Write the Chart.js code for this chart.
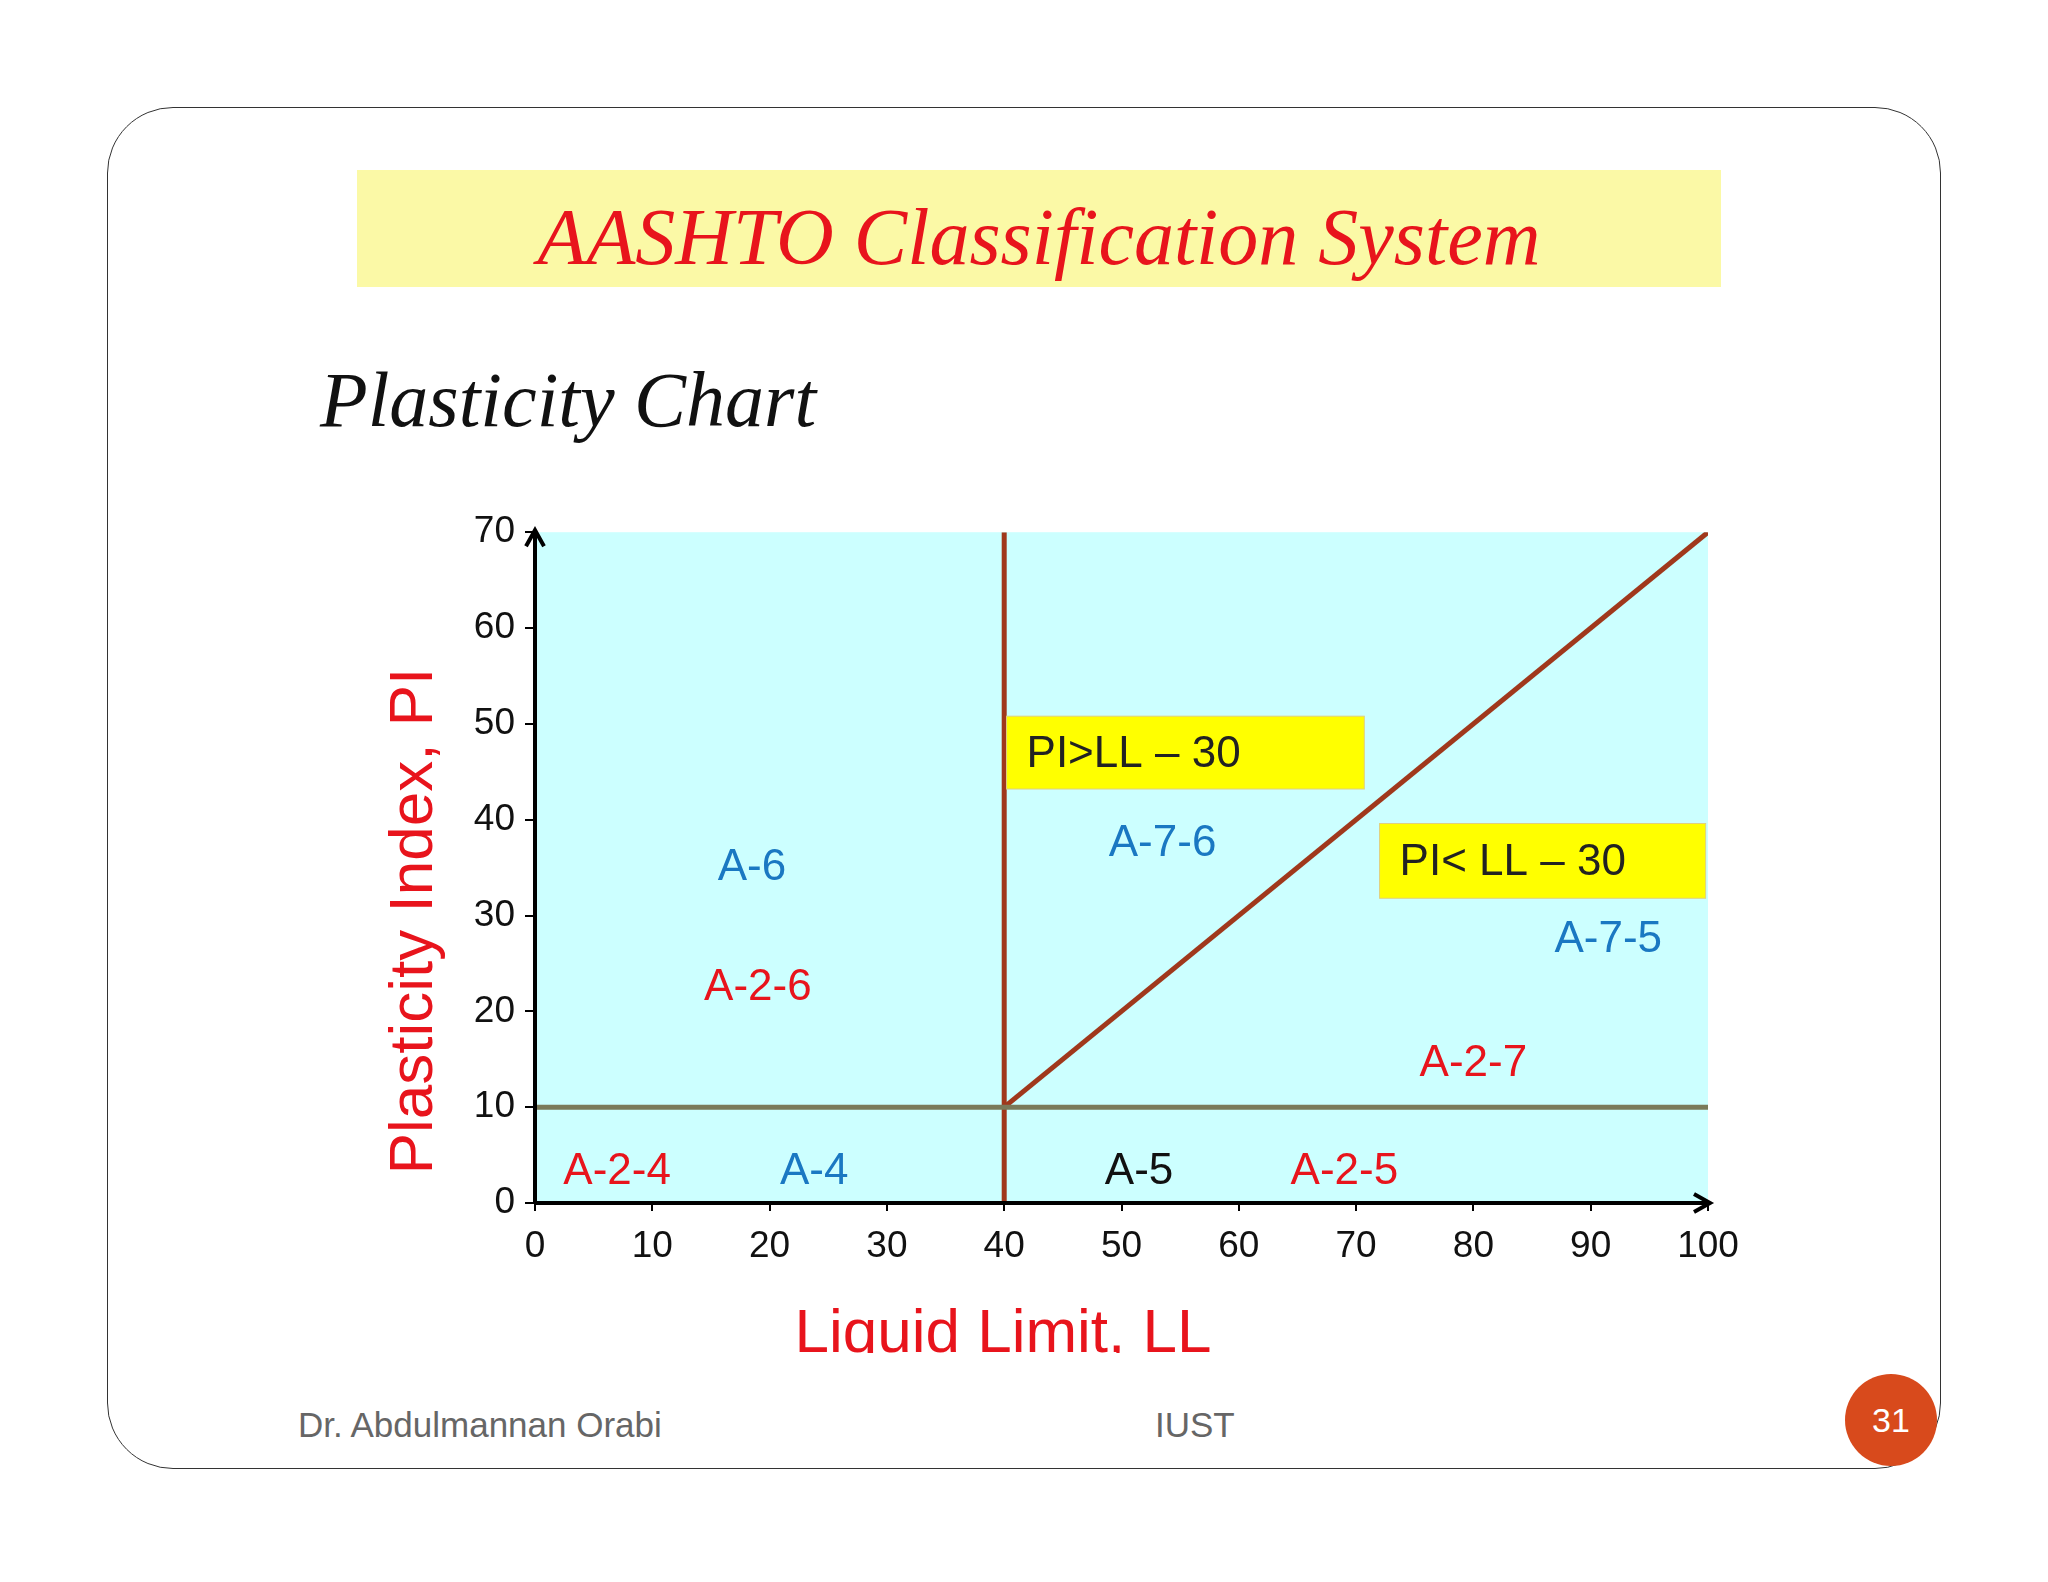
<!DOCTYPE html>
<html><head><meta charset="utf-8">
<script src="https://cdn.jsdelivr.net/npm/chart.js@4"></script>
<style>
body{margin:0;background:#fff;width:2048px;height:1582px;position:relative;overflow:hidden;font-family:"Liberation Sans",Arial,sans-serif}
#frame{position:absolute;left:107px;top:107px;width:1832px;height:1360px;border:1.5px solid #333;border-radius:66px}
#band{position:absolute;left:357px;top:170px;width:1364px;height:117px;background:#fbf9a6}
#title{position:absolute;left:357px;top:192px;width:1364px;height:100px;line-height:100px;text-align:center;font:italic 80px "Liberation Serif",serif;color:#e8141c}
#sub{position:absolute;left:320px;top:355px;font:italic 78px "Liberation Serif",serif;color:#111}
#box{position:absolute;left:370px;top:500px;width:1400px;height:853px}
.foot{position:absolute;top:1405px;font-size:35px;color:#666}
#num{position:absolute;left:1845px;top:1374px;width:92px;height:92px;border-radius:50%;background:#d84a1c;color:#fff;font-size:34px;line-height:92px;text-align:center}
</style></head><body>
<div id="frame"></div><div id="band"></div>
<div id="title">AASHTO Classification System</div>
<div id="sub">Plasticity Chart</div>
<div id="box"><canvas id="c"></canvas></div>
<div class="foot" style="left:298px">Dr. Abdulmannan Orabi</div>
<div class="foot" style="left:1155px">IUST</div>
<div id="num">31</div>
<script>
const xTicks = [0, 10, 20, 30, 40, 50, 60, 70, 80, 90, 100]
const yTicks = [0, 10, 20, 30, 40, 50, 60, 70]
const verticalLine = [{ x: 40, y: 0 }, { x: 40, y: 70 }]
const diagonalLine = [{ x: 40, y: 10 }, { x: 100, y: 70 }]
const horizontalLine = [{ x: 0, y: 10 }, { x: 100, y: 10 }]
const groupNames = ['A-6', 'A-2-6', 'A-7-6', 'A-7-5', 'A-2-7', 'A-2-4', 'A-4', 'A-5', 'A-2-5']
const groupX = [18.5, 19, 53.5, 91.5, 80, 7, 23.8, 51.5, 69]
const groupY = [35, 22.5, 37.5, 27.5, 14.5, 3.3, 3.3, 3.3, 3.3]
const groupColors = ['#1a78c2', '#e8141c', '#1a78c2', '#1a78c2', '#e8141c', '#e8141c', '#1a78c2', '#111', '#e8141c']
const boxText = ['PI>LL – 30', 'PI< LL – 30']
const boxX = [[40.2, 70.7], [72, 99.8]]
const boxY = [[50.8, 43.2], [39.6, 31.8]]
const xTitle = 'Liquid Limit, LL'
const yTitle = 'Plasticity Index, PI'

const decor = {
  id: 'decor',
  beforeDatasetsDraw (chart) {
    const { ctx, chartArea: a } = chart
    ctx.save()
    ctx.fillStyle = '#ccffff'
    ctx.fillRect(a.left, a.top, a.right - a.left, a.bottom - a.top)
    ctx.restore()
  },
  afterDatasetsDraw (chart) {
    const { ctx, chartArea: a, scales: { x, y } } = chart
    ctx.save()
    boxText.forEach(function (t, i) {
      const x0 = x.getPixelForValue(boxX[i][0]), x1 = x.getPixelForValue(boxX[i][1])
      const y0 = y.getPixelForValue(boxY[i][0]), y1 = y.getPixelForValue(boxY[i][1])
      ctx.fillStyle = '#ffff00'
      ctx.fillRect(x0, y0, x1 - x0, y1 - y0)
      ctx.strokeStyle = '#e0d080'
      ctx.lineWidth = 1
      ctx.strokeRect(x0, y0, x1 - x0, y1 - y0)
      ctx.fillStyle = '#222'
      ctx.font = '44px "Liberation Sans", Arial'
      ctx.textBaseline = 'middle'
      ctx.fillText(t, x0 + 20, (y0 + y1) / 2 + 2)
    })
    ctx.textAlign = 'center'
    ctx.textBaseline = 'middle'
    ctx.font = '44px "Liberation Sans", Arial'
    groupNames.forEach(function (n, i) {
      ctx.fillStyle = groupColors[i]
      ctx.fillText(n, x.getPixelForValue(groupX[i]), y.getPixelForValue(groupY[i]))
    })
    // axis titles
    ctx.fillStyle = '#e8141c'
    ctx.font = '62px "Liberation Sans", Arial'
    ctx.fillText(xTitle, 633, 835)
    ctx.save()
    ctx.translate(45, 421)
    ctx.rotate(-Math.PI / 2)
    ctx.fillText(yTitle, 0, 0)
    ctx.restore()
    // axes with arrows
    ctx.strokeStyle = '#000'
    ctx.lineWidth = 4
    ctx.beginPath()
    ctx.moveTo(a.left, a.bottom); ctx.lineTo(a.left, a.top - 2)
    ctx.moveTo(a.left, a.bottom); ctx.lineTo(a.right + 2, a.bottom)
    ctx.moveTo(a.left - 9, a.top + 14); ctx.lineTo(a.left, a.top - 2); ctx.lineTo(a.left + 9, a.top + 14)
    ctx.moveTo(a.right - 14, a.bottom - 9); ctx.lineTo(a.right + 2, a.bottom); ctx.lineTo(a.right - 14, a.bottom + 9)
    ctx.stroke()
    ctx.restore()
  }
}

const line = (data, color) => ({ data, borderColor: color, borderWidth: 5, pointRadius: 0, showLine: true, fill: false })

new Chart(document.getElementById('c'), {
  type: 'scatter',
  data: {
    datasets: [
      line(horizontalLine, '#7a7a5a'),
      line(verticalLine, '#a0381c'),
      line(diagonalLine, '#a0381c')
    ]
  },
  options: {
    responsive: true,
    maintainAspectRatio: false,
    animation: false,
    layout: { padding: { top: 28, right: 62 } },
    plugins: { legend: { display: false }, tooltip: { enabled: false } },
    scales: {
      x: {
        min: 0, max: 100,
        afterBuildTicks: s => { s.ticks = xTicks.map(v => ({ value: v })) },
        afterFit: s => { s.height = 150 },
        grid: { drawOnChartArea: false, color: '#000', lineWidth: 2, tickLength: 8 },
        border: { display: false },
        ticks: { color: '#111', font: { size: 37, family: 'Liberation Sans' }, padding: 14, maxRotation: 0 }
      },
      y: {
        min: 0, max: 70,
        afterBuildTicks: s => { s.ticks = yTicks.map(v => ({ value: v })) },
        afterFit: s => { s.width = 165 },
        grid: { drawOnChartArea: false, color: '#000', lineWidth: 2, tickLength: 10 },
        border: { display: false },
        ticks: { color: '#111', font: { size: 37, family: 'Liberation Sans' }, padding: 10 }
      }
    }
  },
  plugins: [decor]
})
</script>
</body></html>
